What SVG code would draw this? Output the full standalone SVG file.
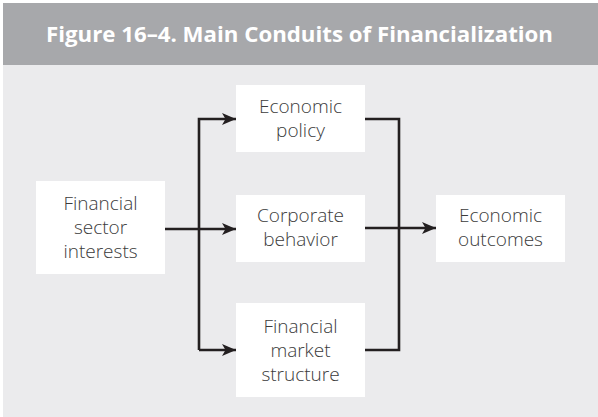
<svg xmlns="http://www.w3.org/2000/svg" width="598" height="417" viewBox="0 0 598 417">
<defs>
<marker id="ah" markerWidth="14" markerHeight="12" refX="14" refY="6" orient="auto" markerUnits="userSpaceOnUse">
<path d="M0,0 L14,6 L0,12 L3.5,6 Z" fill="#231f20"/>
</marker>
<style>
.box{fill:#ffffff;}
.lbl{font-family:"Open Sans","Liberation Sans",sans-serif;font-weight:300;font-size:19px;fill:#3b3b3b;text-anchor:middle;}
.con{fill:none;stroke:#231f20;stroke-width:2.6;}
.ttl{font-family:"Open Sans","Liberation Sans",sans-serif;font-weight:700;font-size:22px;fill:#ffffff;text-anchor:middle;}
</style>
</defs>
<rect x="0" y="0" width="598" height="417" fill="#ffffff"/>
<rect x="3" y="3" width="595" height="414" fill="#ebebed"/>
<rect x="3" y="3" width="595" height="62" fill="#a7a8ab"/>
<text class="ttl" x="299.5" y="42" textLength="507" lengthAdjust="spacingAndGlyphs">Figure 16–4. Main Conduits of Financialization</text>

<g id="connectors">
<path class="con" d="M165,229 H236" marker-end="url(#ah)"/>
<path class="con" d="M199,350 V119 H236" marker-end="url(#ah)"/>
<path class="con" d="M199,350 H236" marker-end="url(#ah)"/>
<path class="con" d="M365,119 H399 V350 H365"/>
<path class="con" d="M365,228 H436" marker-end="url(#ah)"/>
</g>

<g id="financial-sector">
<rect class="box" x="36" y="181" width="129" height="93"/>
<text class="lbl" x="100.5" y="210">Financial</text>
<text class="lbl" x="100.5" y="234">sector</text>
<text class="lbl" x="100.5" y="258">interests</text>
</g>
<g id="economic-policy">
<rect class="box" x="236" y="85" width="129" height="67"/>
<text class="lbl" x="300.5" y="113">Economic</text>
<text class="lbl" x="300.5" y="137">policy</text>
</g>
<g id="corporate-behavior">
<rect class="box" x="236" y="195" width="129" height="67"/>
<text class="lbl" x="300.5" y="222">Corporate</text>
<text class="lbl" x="300.5" y="246">behavior</text>
</g>
<g id="financial-market">
<rect class="box" x="236" y="303" width="129" height="94"/>
<text class="lbl" x="300.5" y="333">Financial</text>
<text class="lbl" x="300.5" y="357">market</text>
<text class="lbl" x="300.5" y="381">structure</text>
</g>
<g id="economic-outcomes">
<rect class="box" x="436" y="195" width="129" height="67"/>
<text class="lbl" x="500.5" y="222">Economic</text>
<text class="lbl" x="500.5" y="246">outcomes</text>
</g>
</svg>
